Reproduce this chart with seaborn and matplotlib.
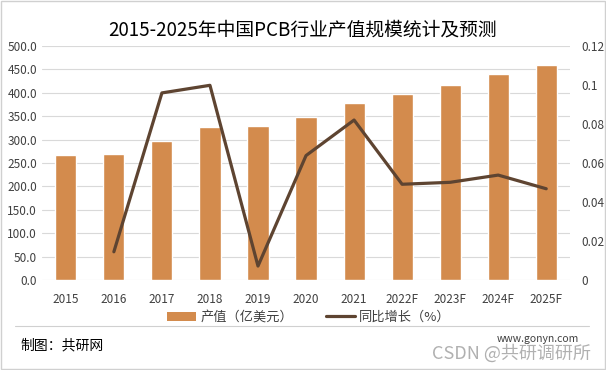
import numpy as np
import pandas as pd
import matplotlib
matplotlib.use("Agg")
import matplotlib.pyplot as plt
import matplotlib.ticker as mticker
from matplotlib.patches import Patch, Rectangle
from matplotlib.lines import Line2D
import seaborn as sns

# data
years = ["2015", "2016", "2017", "2018", "2019", "2020", "2021",
         "2022F", "2023F", "2024F", "2025F"]
output_value = [268, 270, 298, 326, 329, 348, 379, 398, 417, 439, 460]
growth = [np.nan, 0.0145, 0.0959, 0.0998, 0.0072, 0.0638, 0.082,
          0.0491, 0.0501, 0.0538, 0.0468]

bar_label = "产值（亿美元）"
line_label = "同比增长（%）"
title = "2015-2025年中国PCB行业产值规模统计及预测"

bar_color = "#D38B4D"
line_color = "#5E4431"

sns.set_style("white")
plt.rcParams["font.family"] = ["Noto Sans CJK SC", "DejaVu Sans"]

data = pd.DataFrame({"year": years, "value": output_value, "growth": growth})
data["pos"] = range(len(data))

fig = plt.figure(figsize=(6.06, 3.70), dpi=100)
ax = fig.add_axes([0.069, 0.243, 0.872, 0.633])

sns.barplot(data=data, x="year", y="value", color=bar_color,
            width=0.44, saturation=1, ax=ax, zorder=2)
ax.set_ylim(0, 500)
ax.yaxis.set_major_locator(mticker.MultipleLocator(50))
ax.yaxis.set_major_formatter(mticker.FormatStrFormatter("%.1f"))
ax.grid(axis="y", color="#d9d9d9", linewidth=0.8, zorder=0)
ax.set_axisbelow(True)
ax.set_xlim(-0.5, len(years) - 0.5)
ax.set_xlabel("")
ax.set_ylabel("")
ax.tick_params(axis="both", length=0, labelsize=8.5, colors="#404040")
ax.tick_params(axis="x", pad=9)
for s in ax.spines.values():
    s.set_visible(False)

ax2 = ax.twinx()
sns.lineplot(data=data.dropna(), x="pos", y="growth", color=line_color,
             linewidth=2.3, ax=ax2)
ax2.set_ylim(0, 0.12)
ax2.yaxis.set_major_locator(mticker.MultipleLocator(0.02))
ax2.yaxis.set_major_formatter(mticker.FuncFormatter(lambda v, p: f"{v:g}"))
ax2.set_xlim(-0.5, len(years) - 0.5)
ax2.set_ylabel("")
ax2.tick_params(axis="y", length=0, labelsize=8.5, colors="#404040", pad=8)
for s in ax2.spines.values():
    s.set_visible(False)

fig.text(0.5, 0.918, title, ha="center", va="center", fontsize=13.5,
         color="#000000", fontweight="medium")

handles = [Patch(facecolor=bar_color, edgecolor="none"),
           Line2D([0], [0], color=line_color, linewidth=2.3)]
fig.legend(handles, [bar_label, line_label], loc="center",
           bbox_to_anchor=(0.51, 0.142), ncol=2, frameon=False, fontsize=9.5,
           handlelength=2.2, handleheight=0.7, columnspacing=2.5,
           handletextpad=0.3, labelcolor="#404040")

# separator and footer
fig.add_artist(Line2D([0.025, 0.972], [0.12, 0.12], color="#d0d0d0",
                      linewidth=0.8, transform=fig.transFigure))
fig.text(0.033, 0.065, "制图：共研网", fontsize=10, color="#000000",
         va="center")
fig.text(0.955, 0.085, "www.gonyn.com", fontsize=7.5, color="#404040",
         ha="right", va="center")
fig.text(0.975, 0.045, "CSDN @共研调研所", fontsize=13, color="#a8a8a8",
         ha="right", va="center", alpha=0.9)

fig.add_artist(Rectangle((0.002, 0.003), 0.996, 0.994, fill=False,
                         edgecolor="#d0d0d0", linewidth=1,
                         transform=fig.transFigure))

fig.savefig("out.png", dpi=100)
